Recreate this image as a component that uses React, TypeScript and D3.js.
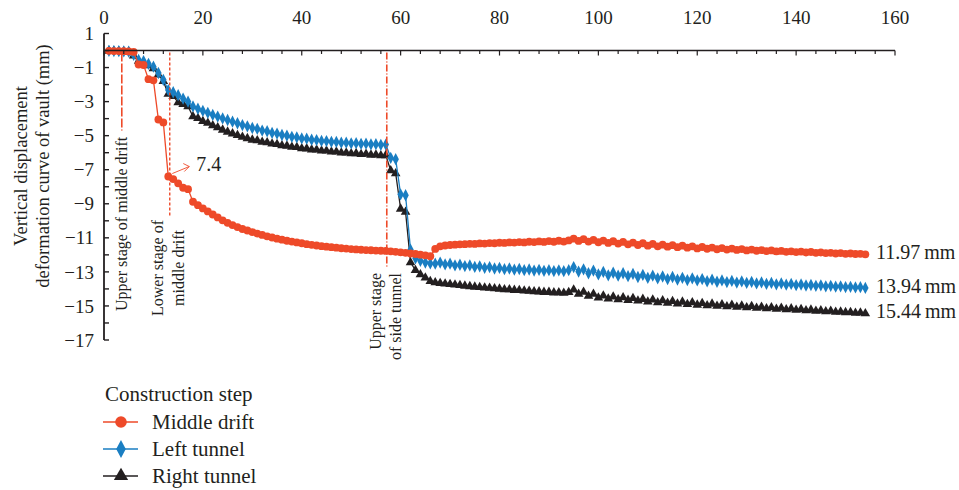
import React from "react";
import * as d3 from "d3";

// ---- data (construction step 1..154) ----
const steps: number[] = Array.from({ length: 154 }, (_, i) => i + 1);

const middleDrift: number[] = [
  -0.02, -0.03, -0.03, -0.04, -0.05, -0.08, -0.82, -0.85, -1.68, -1.75,
  -4.05, -4.22, -7.40, -7.55, -7.80, -8.06, -8.14, -8.88, -9.08, -9.27,
  -9.45, -9.63, -9.80, -9.97, -10.12, -10.25, -10.37, -10.48, -10.57, -10.66,
  -10.75, -10.83, -10.91, -10.98, -11.05, -11.11, -11.17, -11.22, -11.27, -11.32,
  -11.37, -11.41, -11.45, -11.49, -11.52, -11.55, -11.58, -11.61, -11.63, -11.66,
  -11.68, -11.70, -11.72, -11.73, -11.75, -11.76, -11.77, -11.79, -11.82, -11.85,
  -11.88, -11.92, -11.95, -11.99, -12.03, -12.08, -11.65, -11.50, -11.45, -11.42,
  -11.40, -11.38, -11.37, -11.35, -11.36, -11.33, -11.34, -11.31, -11.32, -11.29,
  -11.30, -11.27, -11.28, -11.25, -11.27, -11.23, -11.25, -11.21, -11.24, -11.19,
  -11.23, -11.17, -11.22, -11.15, -11.05, -11.18, -11.08, -11.22, -11.12, -11.26,
  -11.16, -11.30, -11.20, -11.34, -11.24, -11.38, -11.28, -11.42, -11.32, -11.46,
  -11.36, -11.50, -11.40, -11.52, -11.43, -11.55, -11.46, -11.58, -11.50, -11.62,
  -11.54, -11.64, -11.57, -11.67, -11.60, -11.69, -11.63, -11.71, -11.66, -11.74,
  -11.69, -11.76, -11.72, -11.78, -11.74, -11.80, -11.77, -11.82, -11.79, -11.84,
  -11.81, -11.86, -11.83, -11.88, -11.86, -11.90, -11.88, -11.92, -11.90, -11.94,
  -11.92, -11.95, -11.94, -11.97,
];

const leftTunnel: number[] = [
  -0.02, -0.03, -0.04, -0.05, -0.07, -0.25, -0.55, -0.62, -0.78, -0.95,
  -1.32, -1.72, -2.32, -2.45, -2.62, -2.82, -3.00, -3.28, -3.42, -3.55,
  -3.66, -3.78, -3.88, -3.99, -4.08, -4.18, -4.27, -4.38, -4.45, -4.55,
  -4.60, -4.70, -4.74, -4.84, -4.88, -4.96, -5.00, -5.07, -5.10, -5.16,
  -5.18, -5.24, -5.26, -5.31, -5.32, -5.36, -5.37, -5.41, -5.41, -5.45,
  -5.44, -5.48, -5.47, -5.51, -5.50, -5.54, -5.52, -6.30, -6.38, -8.45,
  -8.50, -11.70, -12.20, -12.35, -12.45, -12.50, -12.52, -12.45, -12.56, -12.52,
  -12.62, -12.58, -12.66, -12.62, -12.71, -12.67, -12.76, -12.72, -12.80, -12.77,
  -12.84, -12.80, -12.87, -12.83, -12.90, -12.86, -12.92, -12.88, -12.94, -12.90,
  -12.95, -12.91, -12.96, -12.90, -12.72, -12.98, -12.85, -13.08, -12.92, -13.15,
  -13.00, -13.20, -13.05, -13.22, -13.08, -13.25, -13.12, -13.30, -13.18, -13.35,
  -13.22, -13.38, -13.27, -13.42, -13.30, -13.45, -13.35, -13.48, -13.38, -13.50,
  -13.42, -13.55, -13.46, -13.58, -13.50, -13.60, -13.53, -13.63, -13.56, -13.65,
  -13.59, -13.68, -13.62, -13.70, -13.65, -13.73, -13.68, -13.75, -13.71, -13.78,
  -13.74, -13.80, -13.77, -13.82, -13.79, -13.85, -13.82, -13.87, -13.85, -13.89,
  -13.88, -13.91, -13.90, -13.94,
];

const rightTunnel: number[] = [
  -0.02, -0.03, -0.04, -0.06, -0.08, -0.30, -0.62, -0.70, -0.88, -1.05,
  -1.42, -1.80, -2.55, -2.68, -3.05, -3.15, -3.28, -3.88, -3.98, -4.15,
  -4.26, -4.40, -4.52, -4.66, -4.78, -4.88, -4.98, -5.08, -5.16, -5.25,
  -5.28, -5.37, -5.40, -5.48, -5.50, -5.58, -5.60, -5.67, -5.68, -5.75,
  -5.76, -5.82, -5.83, -5.89, -5.89, -5.95, -5.95, -6.00, -6.00, -6.05,
  -6.04, -6.09, -6.08, -6.13, -6.12, -6.17, -6.16, -7.05, -7.22, -9.30,
  -9.48, -12.45, -12.90, -13.15, -13.35, -13.55, -13.62, -13.67, -13.70, -13.73,
  -13.76, -13.79, -13.82, -13.85, -13.88, -13.90, -13.93, -13.95, -13.98, -14.00,
  -14.03, -14.04, -14.07, -14.08, -14.11, -14.12, -14.15, -14.16, -14.19, -14.19,
  -14.22, -14.21, -14.24, -14.20, -14.05, -14.30, -14.18, -14.42, -14.30, -14.52,
  -14.40, -14.58, -14.46, -14.62, -14.50, -14.66, -14.55, -14.70, -14.60, -14.75,
  -14.64, -14.80, -14.68, -14.83, -14.72, -14.87, -14.76, -14.90, -14.80, -14.94,
  -14.84, -14.97, -14.88, -15.00, -14.92, -15.03, -14.95, -15.06, -14.99, -15.09,
  -15.02, -15.12, -15.06, -15.15, -15.09, -15.18, -15.12, -15.21, -15.16, -15.24,
  -15.19, -15.27, -15.23, -15.30, -15.27, -15.33, -15.30, -15.36, -15.34, -15.38,
  -15.37, -15.41, -15.40, -15.44,
];

const seriesNames = ["Middle drift", "Left tunnel", "Right tunnel"];
const finalLabels = ["11.97", "13.94", "15.44"];
const xTickLabels = [0, 20, 40, 60, 80, 100, 120, 140, 160];
const yTickLabels = [1, -1, -3, -5, -7, -9, -11, -13, -15, -17];
const stageX = [3.6, 13.3, 57.2];
const stageBottom = [-4.7, -9.7, -12.7];
const peakStep = 13;
const peakLabel = "7.4";

const COLORS = ["#EE4A29", "#1A7EC2", "#231F20"];
const FONT = "'Liberation Serif', 'DejaVu Serif', serif";
const RED_ANN = "#EE4A29";

const W = 959;
const H = 490;

export default function App() {
  const x = d3.scaleLinear().domain([0, 160]).range([104, 895]);
  const y = d3.scaleLinear().domain([-17, 1]).range([340, 33.5]);

  const seriesData = [middleDrift, leftTunnel, rightTunnel];
  const symbolTypes = [d3.symbolCircle, d3.symbolDiamond, d3.symbolTriangle];
  const symbolSizes = [48, 36, 40];

  const line = d3
    .line<[number, number]>()
    .x((d) => x(d[0]))
    .y((d) => y(d[1]));

  const symbolPath = (i: number, scale = 1) =>
    d3.symbol().type(symbolTypes[i]).size(symbolSizes[i] * scale)() as string;

  const xTicks = d3.range(0, 161, 4);
  const yTicks = d3.range(1, -18, -1);
  const y0 = y(0);

  const fmt = (v: number) => (v < 0 ? "\u2212" + Math.abs(v) : String(v));

  const drawOrder = [2, 1, 0];

  const px = x(peakStep);
  const py = y(middleDrift[peakStep - 1]);

  return (
    <svg
      width={W}
      height={H}
      style={{ position: "absolute", left: 0, top: 0, background: "#fff" }}
      fontFamily={FONT}
    >
      <rect x={0} y={0} width={W} height={H} fill="#fff" />

      {/* series */}
      {drawOrder.map((si) => {
        const pts: [number, number][] = steps.map((s, k) => [s, seriesData[si][k]]);
        return (
          <g key={si}>
            <path d={line(pts) as string} fill="none" stroke={COLORS[si]} strokeWidth={1.3} />
            {pts.map((p, k) => (
              <path
                key={k}
                d={symbolPath(si)}
                transform={`translate(${x(p[0])},${y(p[1])})${si === 1 ? " scale(1,1.1)" : ""}`}
                fill={COLORS[si]}
              />
            ))}
          </g>
        );
      })}

      {/* x axis (top) */}
      <line x1={x(0)} x2={x(160)} y1={y0} y2={y0} stroke="#231F20" strokeWidth={1.4} />
      {xTicks.map((t) => (
        <line
          key={t}
          x1={x(t)}
          x2={x(t)}
          y1={y0}
          y2={y0 + (t % 20 === 0 ? 5 : 3.5)}
          stroke="#231F20"
          strokeWidth={1.2}
        />
      ))}
      {xTickLabels.map((t) => (
        <text key={t} x={x(t)} y={24} textAnchor="middle" fontSize={19} fill="#231F20">
          {t}
        </text>
      ))}

      {/* y axis */}
      <line x1={x(0)} x2={x(0)} y1={y(1)} y2={y(-17)} stroke="#231F20" strokeWidth={1.8} />
      {yTicks.map((t) => (
        <line key={t} x1={x(0)} x2={x(0) + 5} y1={y(t)} y2={y(t)} stroke="#231F20" strokeWidth={1.4} />
      ))}
      {yTickLabels.map((t) => (
        <text key={t} x={94} y={y(t)} dy="0.35em" textAnchor="end" fontSize={19} fill="#231F20">
          {fmt(t)}
        </text>
      ))}

      {/* y title */}
      <text transform="translate(27,166) rotate(-90)" textAnchor="middle" fontSize={18.5} fill="#231F20">
        Vertical displacement
      </text>
      <text transform="translate(49,166) rotate(-90)" textAnchor="middle" fontSize={18.5} fill="#231F20">
        deformation curve of vault (mm)
      </text>

      {/* stage lines */}
      <line x1={x(stageX[0])} x2={x(stageX[0])} y1={y0 + 2} y2={y(stageBottom[0])} stroke={RED_ANN} strokeWidth={1.6} strokeDasharray="9 2" />
      <line x1={x(stageX[1])} x2={x(stageX[1])} y1={y0 + 2} y2={y(stageBottom[1])} stroke={RED_ANN} strokeWidth={1.4} strokeDasharray="3 2" />
      <line x1={x(stageX[2])} x2={x(stageX[2])} y1={y0 + 2} y2={y(stageBottom[2])} stroke={RED_ANN} strokeWidth={1.6} strokeDasharray="7 2 1 2" />

      <text transform={`translate(${x(stageX[0]) + 5},311) rotate(-90)`} textAnchor="start" fontSize={16} fill="#231F20">
        Upper stage of middle drift
      </text>
      <text transform={`translate(${x(stageX[1]) - 7},268) rotate(-90)`} textAnchor="middle" fontSize={16} fill="#231F20">
        Lower stage of
      </text>
      <text transform={`translate(${x(stageX[1]) + 14},268) rotate(-90)`} textAnchor="middle" fontSize={16} fill="#231F20">
        middle drift
      </text>
      <text transform={`translate(${x(stageX[2]) - 6},273) rotate(-90)`} textAnchor="end" fontSize={16} fill="#231F20">
        Upper stage
      </text>
      <text transform={`translate(${x(stageX[2]) + 14},273) rotate(-90)`} textAnchor="end" fontSize={16} fill="#231F20">
        of side tunnel
      </text>

      {/* 7.4 annotation */}
      <line x1={px + 4} y1={py - 3} x2={px + 21} y2={py - 10} stroke={RED_ANN} strokeWidth={0.9} />
      <polyline
        points={`${px + 15},${py - 13} ${px + 21},${py - 10} ${px + 16},${py - 5}`}
        fill="none"
        stroke={RED_ANN}
        strokeWidth={0.9}
      />
      <text x={px + 28} y={py - 6} fontSize={20} fill="#231F20">
        {peakLabel}
      </text>

      {/* final value labels */}
      {seriesData.map((s, i) => (
        <text key={i} x={876} y={y(s[s.length - 1]) + 5} fontSize={20} fill="#231F20">
          {finalLabels[i]}
          {"\u2009mm"}
        </text>
      ))}

      {/* legend */}
      <text x={105} y={401} fontSize={21} fill="#231F20">
        Construction step
      </text>
      {seriesNames.map((n, i) => {
        const cy = 422 + i * 27;
        return (
          <g key={n}>
            <line x1={103} x2={138} y1={cy} y2={cy} stroke={COLORS[i]} strokeWidth={1.4} />
            <path
              d={symbolPath(i, 2.2)}
              transform={`translate(121,${cy})${i === 1 ? " scale(1,1.1)" : ""}`}
              fill={COLORS[i]}
            />
            <text x={152} y={cy + 7} fontSize={21} fill="#231F20">
              {n}
            </text>
          </g>
        );
      })}
    </svg>
  );
}
